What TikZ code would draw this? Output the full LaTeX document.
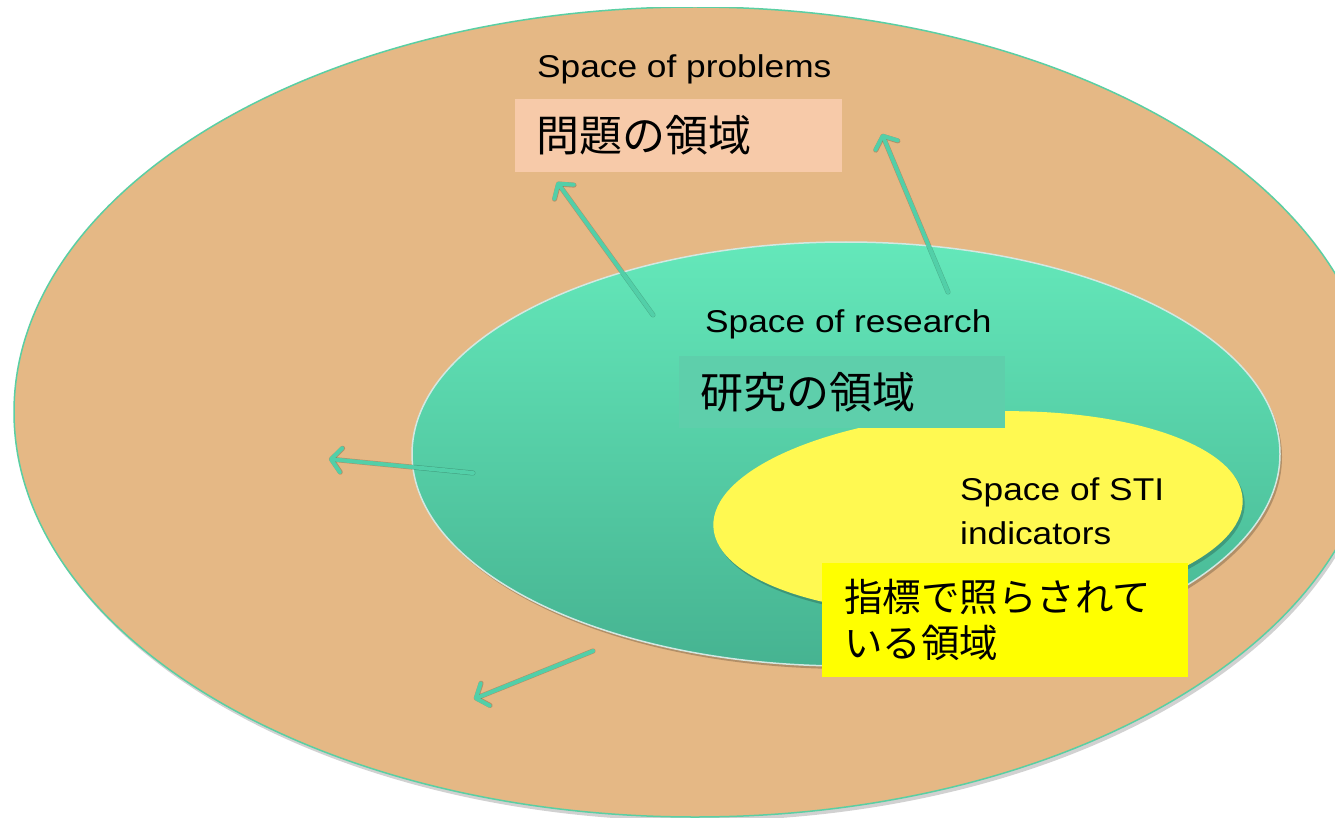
\documentclass[tikz,border=0pt]{standalone}
\usepackage{fontspec}
\setmainfont{Liberation Sans}
\newfontfamily\en{Liberation Sans}[FakeStretch=1.12]
\newfontfamily\cjk{Noto Sans CJK JP}
\usetikzlibrary{arrows.meta,shadows}
\definecolor{bigfill}{HTML}{E5B885}
\definecolor{bigline}{HTML}{5ACFA3}
\definecolor{tealtop}{HTML}{64E8BA}
\definecolor{tealbot}{HTML}{46B391}
\definecolor{tealline}{HTML}{D3E8E2}
\definecolor{yellowell}{HTML}{FFF951}
\definecolor{boxone}{HTML}{F7CAA9}
\definecolor{boxtwo}{HTML}{5ECFAB}
\definecolor{boxthree}{HTML}{FFFF00}
\definecolor{arrowc}{HTML}{52CFA8}
\begin{document}
\begin{tikzpicture}[x=1pt,y=-1pt,
  enlabel/.style={font=\en\fontsize{31.5}{40}\selectfont, anchor=base west, inner sep=0pt, text=black},
  jbox/.style={anchor=north west, inner xsep=21pt, inner ysep=0pt, align=left, text=black},
  arr/.style={draw=arrowc, line width=4pt, line cap=round, -{Straight Barb[length=10pt,width=24pt,round]}},
  arrshadow/.style={draw=black, opacity=0.22, line width=5pt, line cap=round, -{Straight Barb[length=10pt,width=24pt,round]}}
  ]
\useasboundingbox (0,0) rectangle (1335,818);
\fill[white] (0,0) rectangle (1335,818);
\begin{scope}
\clip (0,8) rectangle (1335,818);
% outer ellipse: space of problems
\fill[black, opacity=0.18] (697,416) ellipse [x radius=681, y radius=405];
\draw[fill=bigfill, draw=bigline, line width=1.5pt] (695,412) ellipse [x radius=681, y radius=405];
% research ellipse
\fill[black, opacity=0.22] (848,457) ellipse [x radius=434, y radius=212];
\shade[top color=tealtop, bottom color=tealbot] (846,454) ellipse [x radius=434, y radius=212];
\draw[draw=tealline, line width=1.5pt] (846,454) ellipse [x radius=434, y radius=212];
% indicators ellipse
\fill[black, opacity=0.2, rotate around={3:(980,516)}] (980,516) ellipse [x radius=265, y radius=101];
\fill[yellowell, rotate around={3:(978,513)}] (978,513) ellipse [x radius=265, y radius=101];
\end{scope}
% label boxes
\node[jbox, fill=boxone, minimum width=327pt, minimum height=73pt, text width=285pt,
      font=\cjk\fontsize{43}{50}\selectfont] (jp1) at (515,99) {問題の領域};
\node[jbox, fill=boxtwo, minimum width=326pt, minimum height=72pt, text width=284pt,
      font=\cjk\fontsize{43}{50}\selectfont] (jp2) at (679,356) {研究の領域};
\node[jbox, fill=boxthree, minimum width=366pt, minimum height=114pt, text width=322pt, inner xsep=22pt,
      font=\cjk\fontsize{38.5}{46}\selectfont] (jp3) at (822,563) {指標で照らされて\\いる領域};
% english labels
\node[enlabel] (en1) at (537,78) {Space of problems};
\node[enlabel] (en2) at (705,332) {Space of research};
\node[enlabel] (en3) at (960,500) {Space of STI};
\node[enlabel] (en4) at (960,544) {indicators};
% arrows
\coordinate (a1s) at (653,315); \coordinate (a1e) at (557,182);
\coordinate (a2s) at (948,292); \coordinate (a2e) at (882,134);
\coordinate (a3s) at (473,473); \coordinate (a3e) at (329,459);
\coordinate (a4s) at (593,651); \coordinate (a4e) at (474,699);
\begin{scope}[xshift=2pt, yshift=-3pt]
\draw[arrshadow] (a1s) -- (a1e);
\draw[arrshadow] (a2s) -- (a2e);
\draw[arrshadow] (a3s) -- (a3e);
\draw[arrshadow] (a4s) -- (a4e);
\end{scope}
\draw[arr] (a1s) -- (a1e);
\draw[arr] (a2s) -- (a2e);
\draw[arr] (a3s) -- (a3e);
\draw[arr] (a4s) -- (a4e);
\end{tikzpicture}
\end{document}
